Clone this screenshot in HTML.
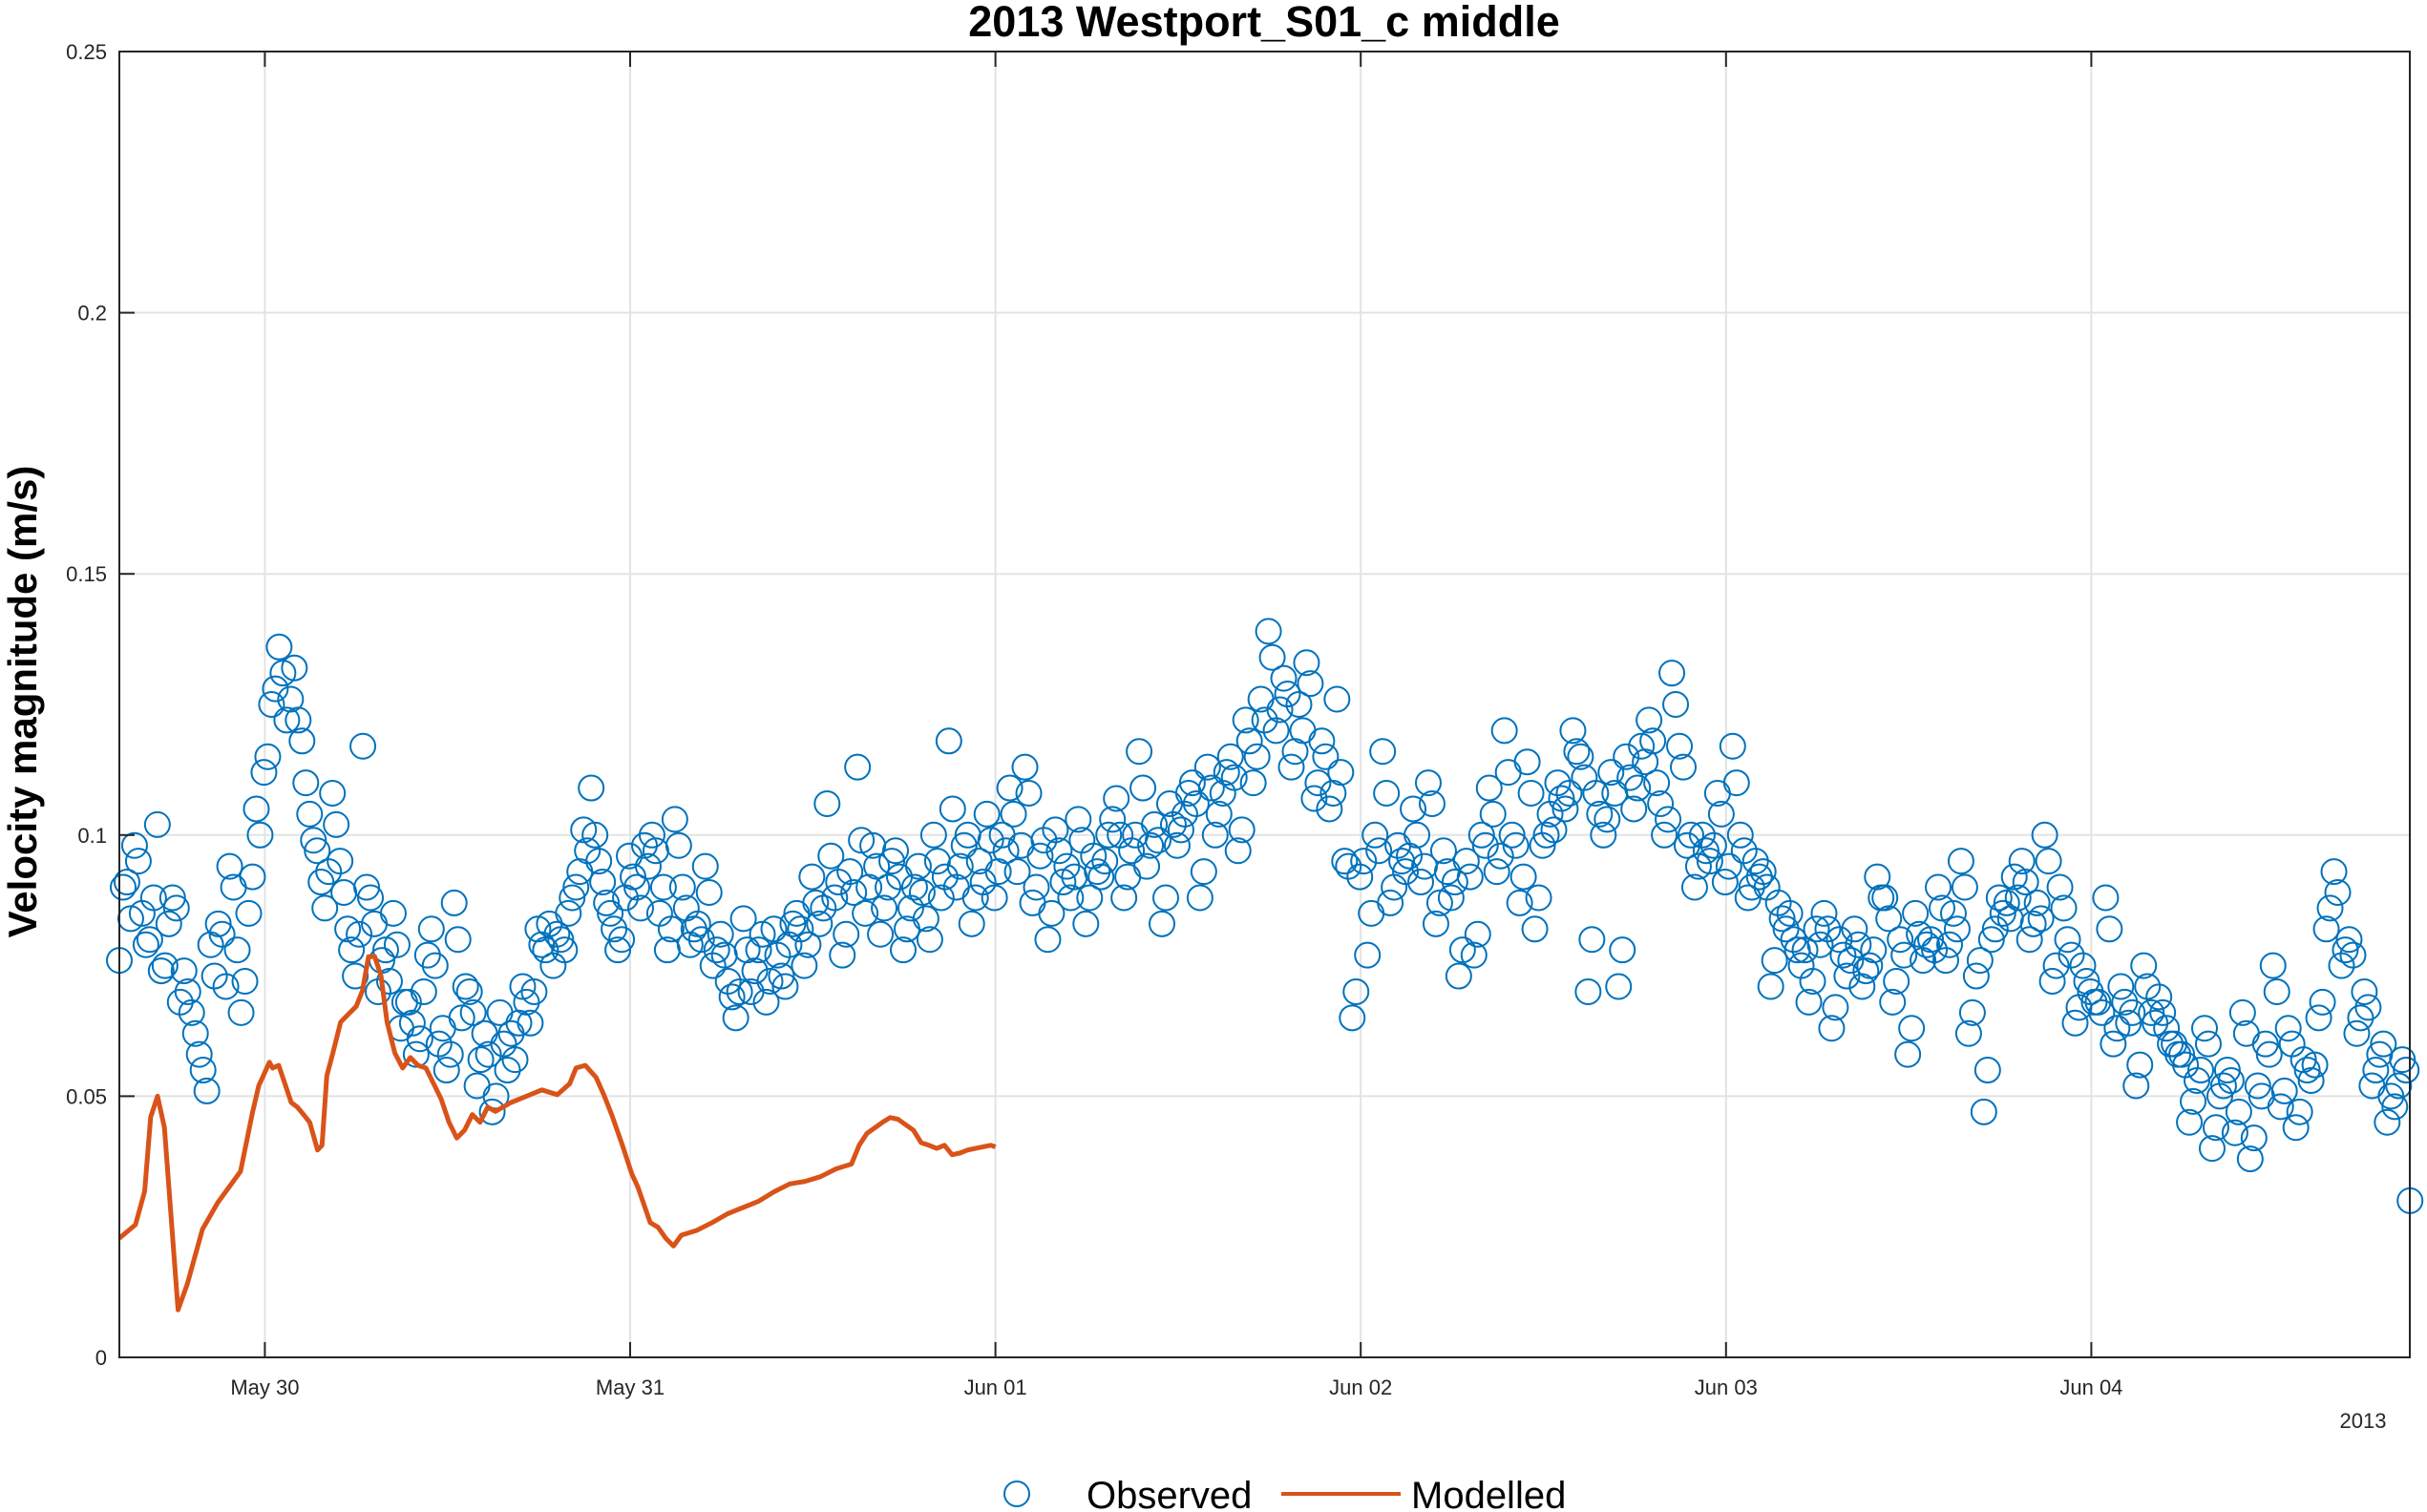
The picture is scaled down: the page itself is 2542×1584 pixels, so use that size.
<!DOCTYPE html>
<html><head><meta charset="utf-8"><style>
html,body{margin:0;padding:0;background:#fff;}
svg{display:block;font-family:"Liberation Sans",Arial,sans-serif;}
</style></head><body>
<svg id="chart" width="2542" height="1584" viewBox="0 0 2542 1584" xmlns="http://www.w3.org/2000/svg">
<rect x="0" y="0" width="2542" height="1584" fill="#fff"/>
<g id="grid"></g>
<g id="obs"></g>
<g id="mod"></g>
<g id="axes"></g>
<text x="1324" y="38" text-anchor="middle" font-size="45" font-weight="bold">2013 Westport_S01_c middle</text>
<text transform="translate(38,735) rotate(-90)" text-anchor="middle" font-size="42" font-weight="bold">Velocity magnitude (m/s)</text>
<text x="2475" y="1496" text-anchor="middle" font-size="22" fill="#262626">2013</text>
<g>
<circle cx="1065" cy="1565" r="13" fill="none" stroke="#0072BD" stroke-width="2"/>
<text x="1138" y="1580" font-size="40">Observed</text>
<line x1="1342" y1="1565" x2="1467" y2="1565" stroke="#D95319" stroke-width="4"/>
<text x="1478" y="1580" font-size="40">Modelled</text>
</g>
</svg>
<script>
const yTicks=[0,0.05,0.1,0.15,0.2,0.25];
const yTickLabels=["0","0.05","0.1","0.15","0.2","0.25"];
const xTickHours=[24,48,72,96,120,144];
const xTickLabels=["May 30","May 31","Jun 01","Jun 02","Jun 03","Jun 04"];
const obsStartHour=14.44;
const obsStepHours=0.5;
const obsValues=[
.076,.091,.098,.085,.08,.102,.075,.088,.068,.07,
.062,.055,.079,.083,.071,.09,.066,.085,.105,.112,
.125,.136,.122,.132,.118,.104,.097,.086,.108,.095,
.082,.073,.117,.088,.07,.078,.085,.063,.068,.058,
.07,.082,.06,.055,.087,.065,.07,.052,.062,.047,
.066,.055,.057,.071,.064,.082,.078,.075,.08,.085,
.09,.101,.109,.095,.087,.082,.08,.096,.09,.098,
.1,.085,.078,.103,.09,.079,.083,.094,.075,.081,
.072,.065,.084,.07,.078,.068,.082,.073,.079,.085,
.075,.092,.083,.106,.088,.077,.093,.113,.085,.098,
.081,.09,.097,.078,.086,.094,.084,.1,.088,.118,
.09,.098,.083,.095,.104,.088,.1,.109,.093,.113,
.087,.096,.08,.101,.091,.088,.103,.083,.096,.092,
.1,.107,.088,.097,.116,.094,.102,.083,.106,.098,
.104,.11,.088,.113,.1,.108,.115,.097,.122,.11,
.126,.139,.12,.13,.113,.125,.133,.107,.118,.105,
.126,.095,.065,.092,.077,.1,.116,.087,.098,.093,
.105,.091,.11,.083,.097,.088,.073,.095,.077,.1,
.109,.093,.12,.1,.087,.114,.082,.098,.104,.11,
.105,.12,.115,.07,.108,.1,.112,.071,.115,.105,
.117,.122,.11,.1,.131,.117,.098,.09,.1,.095,
.108,.091,.117,.1,.088,.095,.093,.071,.087,.082,
.08,.075,.068,.082,.085,.063,.08,.073,.082,.071,
.075,.092,.088,.068,.08,.058,.085,.076,.08,.09,
.076,.085,.095,.062,.073,.047,.08,.088,.087,.092,
.095,.08,.087,.1,.072,.09,.08,.064,.075,.07,
.068,.088,.06,.071,.064,.052,.075,.066,.069,.063,
.06,.058,.045,.053,.063,.04,.05,.055,.043,.066,
.038,.052,.06,.075,.048,.063,.044,.057,.053,.065,
.082,.093,.075,.08,.062,.07,.052,.058,.045,.048,
.057,.03];
const obsValuesB=[
.09,.084,.095,.079,.088,.074,.083,.086,.074,.066,
.058,.051,.073,.081,.094,.078,.072,.092,.1,.115,
.128,.131,.126,.122,.11,.099,.091,.093,.102,.089,
.078,.081,.09,.083,.076,.072,.079,.068,.064,.061,
.077,.075,.063,.058,.08,.071,.066,.057,.058,.05,
.06,.062,.064,.068,.07,.079,.083,.081,.078,.088,
.093,.097,.1,.091,.085,.078,.088,.092,.086,.094,
.097,.09,.082,.098,.086,.082,.08,.089,.078,.077,
.069,.07,.078,.074,.081,.072,.077,.071,.083,.082,
.079,.087,.086,.096,.091,.081,.089,.099,.09,.094,
.086,.095,.092,.082,.09,.089,.08,.095,.092,.105,
.094,.1,.088,.091,.099,.093,.097,.104,.098,.108,
.09,.099,.085,.097,.094,.092,.099,.088,.093,.095,
.103,.1,.092,.1,.109,.098,.099,.088,.102,.101,
.108,.106,.093,.109,.104,.112,.111,.101,.118,.115,
.122,.134,.124,.127,.116,.12,.129,.11,.115,.108,
.112,.094,.07,.095,.085,.097,.108,.09,.095,.096,
.1,.094,.106,.087,.093,.091,.078,.092,.081,.098,
.104,.096,.112,.098,.092,.108,.088,.1,.101,.107,
.108,.116,.111,.08,.104,.103,.108,.078,.111,.109,
.114,.118,.106,.103,.125,.113,.1,.094,.097,.098,
.104,.094,.11,.097,.09,.092,.09,.076,.084,.085,
.078,.078,.072,.079,.082,.067,.077,.076,.079,.074,
.078,.088,.084,.072,.077,.063,.081,.079,.078,.086,
.079,.082,.09,.066,.076,.055,.082,.085,.084,.088,
.091,.083,.084,.095,.075,.086,.077,.067,.072,.068,
.066,.082,.063,.068,.066,.056,.071,.064,.066,.06,
.058,.056,.049,.055,.06,.044,.052,.053,.047,.062,
.042,.05,.058,.07,.051,.06,.047,.055,.056,.068,
.086,.089,.078,.077,.065,.067,.055,.06,.05,.052,
.055];
const modHours=[14.44,15.5,16.1,16.5,16.95,17.4,18.3,18.9,19.9,20.9,22.4,23.2,23.6,24.3,24.51,24.91,25.32,25.73,26.14,26.54,26.95,27.46,27.76,28.07,28.47,28.98,29.49,30.0,30.41,30.81,31.22,31.63,32.03,32.54,33.05,33.56,34.07,34.58,35.09,35.59,36.1,36.61,37.12,37.63,38.14,38.64,39.15,40.17,41.19,42.2,43.22,44.03,44.44,45.05,45.76,46.27,46.78,47.49,48.1,48.51,49.32,49.83,50.34,50.85,51.36,52.37,53.39,54.41,55.42,56.44,57.46,58.48,59.49,60.51,61.53,62.54,63.05,63.56,64.58,65.09,65.59,66.61,67.12,67.63,68.14,68.65,69.15,69.66,70.17,70.68,71.7,72.0];
const modValues=[.0228,.0254,.0318,.046,.05,.044,.0091,.014,.0245,.0296,.0356,.047,.052,.0565,.0554,.0559,.0524,.0488,.0479,.0465,.045,.0397,.0406,.0539,.0583,.0642,.0657,.0672,.0702,.0767,.0767,.0731,.0642,.0583,.0554,.0574,.0559,.0554,.0524,.0494,.045,.042,.0435,.0465,.045,.0479,.0471,.0488,.05,.0512,.0503,.0524,.0554,.0559,.0536,.0503,.0465,.0406,.0352,.0326,.0258,.0249,.0228,.0213,.0234,.0243,.0258,.0275,.0287,.0299,.0317,.0332,.0337,.0346,.0361,.037,.0406,.0429,.045,.0459,.0456,.0435,.0411,.0406,.04,.0406,.0388,.0391,.0397,.04,.0406,.0403];

const L=125,R=2524,T=54,B=1422;
const H0=14.44,H1=14.44+(R-L)/(382.6/24);
const xS=h=>L+(h-H0)*(R-L)/(H1-H0);
const yS=v=>B-v/0.25*(B-T);
const NS="http://www.w3.org/2000/svg";
function mk(tag,attrs,parent){const e=document.createElementNS(NS,tag);for(const k in attrs)e.setAttribute(k,attrs[k]);parent.appendChild(e);return e;}
const grid=document.getElementById('grid'),axes=document.getElementById('axes'),obs=document.getElementById('obs'),mod=document.getElementById('mod');

yTicks.forEach((v,i)=>{
  const y=yS(v);
  if(i>0&&i<yTicks.length-1){const g=mk('line',{x1:L,x2:R,y1:y,y2:y,stroke:'#e3e3e3','stroke-width':2},grid);
  
  }
  const t=mk('line',{x1:L,x2:L+16,y1:y,y2:y,stroke:'#262626','stroke-width':2},axes);
  
  
  const lb=mk('text',{x:112,y:y+8,'text-anchor':'end','font-size':22,fill:'#262626'},axes);
  lb.textContent=yTickLabels[i];
  
  
});
xTickHours.forEach((h,i)=>{
  const x=xS(h);
  const g=mk('line',{x1:x,x2:x,y1:T,y2:B,stroke:'#e3e3e3','stroke-width':2},grid);
  
  
  const t1=mk('line',{x1:x,x2:x,y1:B,y2:B-16,stroke:'#262626','stroke-width':2},axes);
  
  
  const t2=mk('line',{x1:x,x2:x,y1:T,y2:T+16,stroke:'#262626','stroke-width':2},axes);
  
  
  const lb=mk('text',{x:x,y:1461,'text-anchor':'middle','font-size':22,fill:'#262626'},axes);
  lb.textContent=xTickLabels[i];
  
  
});
const box=mk('rect',{x:L,y:T,width:R-L,height:B-T,fill:'none',stroke:'#262626','stroke-width':2},axes);



obsValues.forEach((v,i)=>{
  const c=mk('circle',{cx:xS(obsStartHour+i*obsStepHours),cy:yS(v),r:13,fill:'none',stroke:'#0072BD','stroke-width':2},obs);
  
  
});
obsValuesB.forEach((v,i)=>{
  const c=mk('circle',{cx:xS(obsStartHour+obsStepHours/2+i*obsStepHours),cy:yS(v),r:13,fill:'none',stroke:'#0072BD','stroke-width':2},obs);
  
  
});
const d=modHours.map((h,i)=>(i?'L':'M')+xS(h).toFixed(1)+','+yS(modValues[i]).toFixed(1)).join(' ');
const p=mk('path',{d:d,fill:'none',stroke:'#D95319','stroke-width':5,'stroke-linejoin':'round'},mod);


</script>
</body></html>
